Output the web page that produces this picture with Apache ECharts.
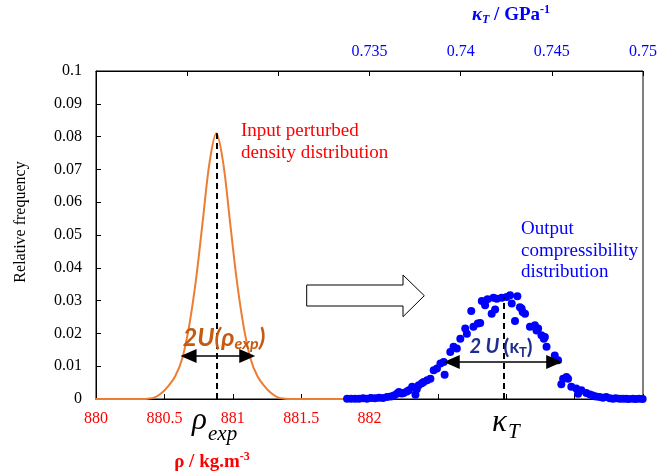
<!DOCTYPE html>
<html>
<head>
<meta charset="utf-8">
<script src="https://cdn.jsdelivr.net/npm/echarts@6/dist/echarts.min.js"></script>
<style>html,body{margin:0;padding:0;background:#fff}#c{width:660px;height:475px}</style>
</head>
<body>
<div id="c"></div>
<script>
// Input density distribution (bottom axis, kg/m3)
const rhoX = [880.0, 880.2, 880.33, 880.38, 880.43, 880.48, 880.53, 880.58, 880.63, 880.68, 880.73, 880.78, 880.83, 880.88,
  880.93, 880.98, 881.03, 881.08, 881.13, 881.18, 881.23, 881.28, 881.33, 881.38, 881.43, 881.6, 881.8, 882.0];
const rhoFreq = [0, 0, 0, 0.0001, 0.0005, 0.0018, 0.004, 0.007, 0.0123, 0.022, 0.036, 0.054, 0.072, 0.081,
  0.072, 0.054, 0.036, 0.022, 0.0123, 0.007, 0.004, 0.0018, 0.0005, 0.0001, 0, 0, 0, 0];

// Output compressibility distribution (top axis, GPa^-1)
const kappaX = [0.73377, 0.73399, 0.73421, 0.73443, 0.73465, 0.73486, 0.73508, 0.73530, 0.73552, 0.73574,
  0.73596, 0.73617, 0.73634, 0.73650, 0.73661, 0.73677, 0.73688, 0.73705, 0.73716, 0.73734,
  0.73752, 0.73759, 0.73770, 0.73787, 0.73797, 0.73816, 0.73834, 0.73852, 0.73870, 0.73889,
  0.73907, 0.73912, 0.73943, 0.73961, 0.73979, 0.73998, 0.74025, 0.74034, 0.74058, 0.74070,
  0.74094, 0.74107, 0.74116, 0.74134, 0.74147, 0.74170, 0.74180, 0.74189, 0.74198, 0.74225,
  0.74252, 0.74271, 0.74280, 0.74298, 0.74311, 0.74325, 0.74334, 0.74340, 0.74353, 0.74380,
  0.74407, 0.74416, 0.74425, 0.74443, 0.74456, 0.74462, 0.74471, 0.74516, 0.74534, 0.74552,
  0.74562, 0.74580, 0.74589, 0.74607, 0.74634, 0.74644, 0.74662, 0.74689, 0.74709, 0.74725,
  0.74742, 0.74762, 0.74780, 0.74798, 0.74818, 0.74835, 0.74851, 0.74871, 0.74889, 0.74907,
  0.74922, 0.74944, 0.74960, 0.74980, 0.74998];
const kappaFreq = [0.0001, 0.0001, 0.0001, 0.0001, 0.0002, 0.0001, 0.0003, 0.0002, 0.0004, 0.0003,
  0.0006, 0.0008, 0.0011, 0.0016, 0.0021, 0.0017, 0.0018, 0.0023, 0.0027, 0.0037,
  0.0013, 0.0030, 0.0042, 0.0048, 0.0052, 0.0057, 0.0062, 0.0088, 0.0093, 0.0108,
  0.0113, 0.0074, 0.0143, 0.0159, 0.0154, 0.0184, 0.0215, 0.0199, 0.0268, 0.0220,
  0.0230, 0.0232, 0.0299, 0.0286, 0.0304, 0.0260, 0.0309, 0.0273, 0.0306, 0.0309,
  0.0311, 0.0316, 0.0291, 0.0238, 0.0313, 0.0280, 0.0276, 0.0265, 0.0260, 0.0220,
  0.0225, 0.0209, 0.0215, 0.0194, 0.0184, 0.0189, 0.0159, 0.0133, 0.0118, 0.0045,
  0.0062, 0.0067, 0.0062, 0.0037, 0.0032, 0.0016, 0.0027, 0.0018, 0.0014, 0.0011,
  0.0008, 0.0006, 0.0004, 0.0006, 0.0002, 0.0001, 0.0002, 0.0001, 0.0001, 0.0001,
  0, 0.0001, 0, 0.0001, 0];

// Annotation values (data coordinates)
const rhoCenter = 880.88, rhoPeak = 0.081;
const rhoArrow = [880.677, 881.106], rhoArrowY = 0.0131;
const kappaCenter = 0.74234, kappaPeak = 0.031;
const kappaArrow = [0.73951, 0.74513], kappaArrowY = 0.0113;

const serif = 'Liberation Serif';
const chart = echarts.init(document.getElementById('c'));

const dashStyle = {color: '#000', width: 2, type: [6, 4]};
const arrowStyle = {color: '#000', width: 1.5, type: 'solid'};

chart.setOption({
  animation: false,
  grid: {left: 96, right: 15, top: 71, bottom: 76, show: true, borderColor: '#000', borderWidth: 1},
  xAxis: [
    {
      type: 'value', position: 'bottom', min: 880, max: 884, interval: 0.5,
      axisLine: {show: true, onZero: false, lineStyle: {color: '#000', width: 1}},
      axisTick: {show: true, inside: true, length: 5, lineStyle: {color: '#000'}},
      splitLine: {show: false},
      axisLabel: {color: '#ff0000', fontFamily: serif, fontSize: 16, margin: 12,
        formatter: v => v > 882.01 ? '' : String(+v.toFixed(1))}
    },
    {
      type: 'value', position: 'top', min: 0.72, max: 0.75, interval: 0.005,
      axisLine: {show: true, onZero: false, lineStyle: {color: '#000', width: 1}},
      axisTick: {show: true, inside: true, length: 5, lineStyle: {color: '#000'}},
      splitLine: {show: false},
      axisLabel: {color: '#0000ff', fontFamily: serif, fontSize: 16, margin: 11, showMaxLabel: true,
        formatter: v => v < 0.7349 ? '' : String(+v.toFixed(3))}
    }
  ],
  yAxis: {
    type: 'value', min: 0, max: 0.1, interval: 0.01,
    axisLine: {show: true, lineStyle: {color: '#000', width: 1}},
    axisTick: {show: true, inside: true, length: 5, lineStyle: {color: '#000'}},
    splitLine: {show: false},
    axisLabel: {color: '#000', fontFamily: serif, fontSize: 16, margin: 14, showMaxLabel: true,
      formatter: v => String(+v.toFixed(2))}
  },
  series: [
    {
      type: 'line', xAxisIndex: 0, yAxisIndex: 0,
      data: rhoX.map((x, i) => [x, rhoFreq[i]]),
      smooth: 0.35, showSymbol: false, symbol: 'none',
      lineStyle: {color: '#ed7d31', width: 2}, z: 1,
      markLine: {
        silent: true, animation: false, label: {show: false},
        data: [
          [{coord: [rhoCenter, 0], symbol: 'none', lineStyle: dashStyle}, {coord: [rhoCenter, rhoPeak], symbol: 'none'}],
          [{coord: [rhoArrow[0], rhoArrowY], symbol: 'triangle', symbolSize: [14, 16], lineStyle: arrowStyle},
           {coord: [rhoArrow[1], rhoArrowY], symbol: 'triangle', symbolSize: [14, 16]}]
        ],
        itemStyle: {color: '#000'}
      }
    },
    {
      type: 'scatter', xAxisIndex: 1, yAxisIndex: 0,
      data: kappaX.map((x, i) => [x, kappaFreq[i]]),
      symbolSize: 8, itemStyle: {color: '#0000ff', opacity: 1}, z: 2,
      markLine: {
        silent: true, animation: false, label: {show: false},
        data: [
          [{coord: [kappaCenter, 0], symbol: 'none', lineStyle: dashStyle}, {coord: [kappaCenter, kappaPeak], symbol: 'none'}],
          [{coord: [kappaArrow[0], kappaArrowY], symbol: 'triangle', symbolSize: [14, 16], lineStyle: arrowStyle},
           {coord: [kappaArrow[1], kappaArrowY], symbol: 'triangle', symbolSize: [14, 16]}]
        ],
        itemStyle: {color: '#000'}
      }
    }
  ],
  graphic: [
    // Y axis title
    {type: 'text', x: 21, y: 222, rotation: Math.PI / 2,
      style: {text: 'Relative frequency', fill: '#000', font: '16px "Liberation Serif"', align: 'center', verticalAlign: 'middle'}},
    // top axis title
    {type: 'text', x: 511, y: 15,
      style: {text: '{k|κ}{t|T}{n| / GPa}{s|-1}', align: 'center', verticalAlign: 'middle',
        rich: {
          k: {fill: '#0000ff', fontFamily: serif, fontSize: 19, fontWeight: 'bold', fontStyle: 'italic', lineHeight: 22},
          t: {fill: '#0000ff', fontFamily: serif, fontSize: 12, fontWeight: 'bold', fontStyle: 'italic', verticalAlign: 'bottom', lineHeight: 12},
          n: {fill: '#0000ff', fontFamily: serif, fontSize: 19, fontWeight: 'bold', lineHeight: 22},
          s: {fill: '#0000ff', fontFamily: serif, fontSize: 12, fontWeight: 'bold', verticalAlign: 'top', lineHeight: 12}
        }}},
    // bottom axis title
    {type: 'text', x: 212, y: 462,
      style: {text: '{n|ρ / kg.m}{s|-3}', align: 'center', verticalAlign: 'middle',
        rich: {
          n: {fill: '#ff0000', fontFamily: serif, fontSize: 19, fontWeight: 'bold', lineHeight: 22},
          s: {fill: '#ff0000', fontFamily: serif, fontSize: 12, fontWeight: 'bold', verticalAlign: 'top', lineHeight: 12}
        }}},
    // big symbols under axis
    {type: 'text', x: 192, y: 421, style: {text: 'ρ', fill: '#000', font: 'italic 31px "Liberation Serif"', align: 'left', verticalAlign: 'middle'}},
    {type: 'text', x: 208, y: 434, style: {text: 'exp', fill: '#000', font: 'italic 21px "Liberation Serif"', align: 'left', verticalAlign: 'middle'}},
    {type: 'text', x: 492, y: 423, style: {text: 'κ', fill: '#000', font: 'italic 31px "Liberation Serif"', align: 'left', verticalAlign: 'middle'}},
    {type: 'text', x: 508, y: 432, style: {text: 'T', fill: '#000', font: 'italic 21px "Liberation Serif"', align: 'left', verticalAlign: 'middle'}},
    // annotations
    {type: 'text', x: 241, y: 120,
      style: {text: 'Input perturbed\ndensity distribution', fill: '#ff0000', font: '19px "Liberation Serif"', lineHeight: 22, align: 'left', verticalAlign: 'top'}},
    {type: 'text', x: 521, y: 218,
      style: {text: 'Output\ncompressibility\ndistribution', fill: '#0000ff', font: '19px "Liberation Serif"', lineHeight: 21.7, align: 'left', verticalAlign: 'top'}},
    {type: 'polygon', z: 10,
      shape: {points: [[306.7, 285], [403, 285], [403, 275], [424.3, 295.7], [403, 316.7], [403, 306], [306.7, 306]]},
      style: {fill: '#fff', stroke: '#000', lineWidth: 1}},
    {type: 'text', x: 224, y: 338, z: 10,
      style: {text: '{a|2U(}{r|ρ}{e|exp}{a|)}', align: 'center', verticalAlign: 'middle',
        rich: {
          a: {fill: '#c55a11', fontFamily: 'Lato', fontSize: 25, fontWeight: 'bold', fontStyle: 'italic', lineHeight: 28},
          r: {fill: '#c55a11', fontFamily: 'Lato', fontSize: 25, fontWeight: 'bold', fontStyle: 'italic', lineHeight: 28},
          e: {fill: '#c55a11', fontFamily: 'Lato', fontSize: 16, fontWeight: 'bold', fontStyle: 'italic', verticalAlign: 'bottom', lineHeight: 20}
        }}},
    {type: 'text', x: 501, y: 347, z: 10,
      style: {text: '{a|2 U }{p|(}{k|κ}{t|T}{p|)}', align: 'center', verticalAlign: 'middle',
        rich: {
          a: {fill: '#1f2d8f', fontFamily: 'Lato', fontSize: 20, fontWeight: 'bold', fontStyle: 'italic', lineHeight: 24},
          p: {fill: '#1f2d8f', fontFamily: 'Lato', fontSize: 21, fontWeight: 'bold', lineHeight: 24},
          k: {fill: '#1f2d8f', fontFamily: 'Lato', fontSize: 18, fontWeight: 'bold', lineHeight: 24, verticalAlign: 'middle'},
          t: {fill: '#1f2d8f', fontFamily: 'Lato', fontSize: 13, fontWeight: 'bold', verticalAlign: 'bottom', lineHeight: 18}
        }}}
  ]
});
</script>
</body>
</html>
